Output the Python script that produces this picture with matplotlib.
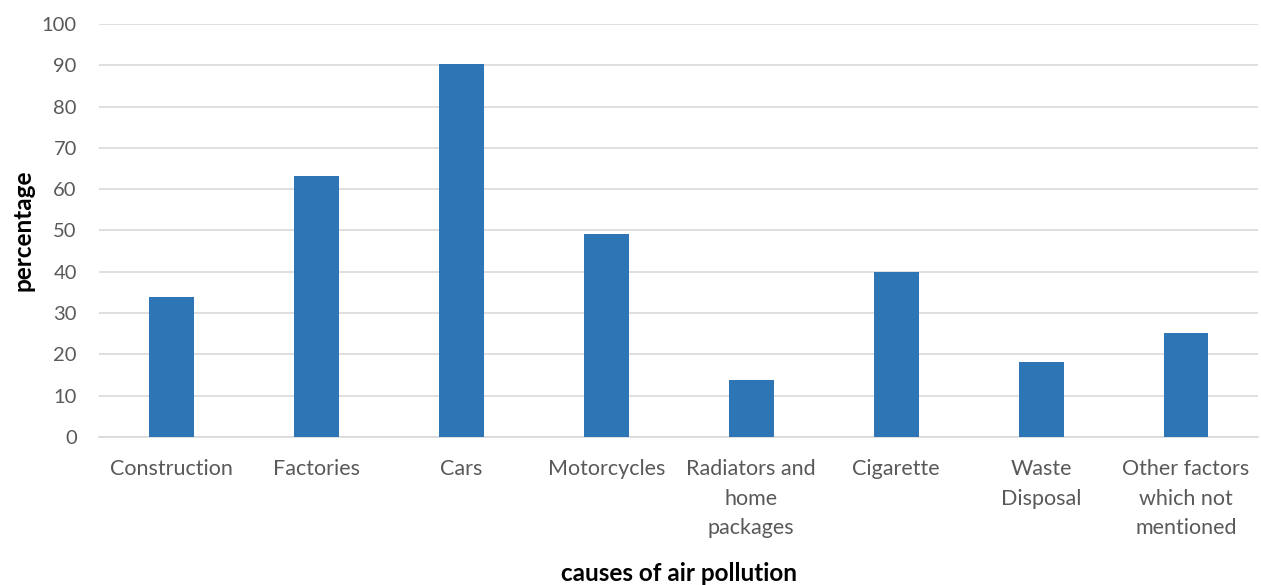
import matplotlib
matplotlib.use('Agg')
import matplotlib.pyplot as plt

# causes of air pollution survey
categories = ['Construction', 'Factories', 'Cars', 'Motorcycles',
              'Radiators and\nhome\npackages', 'Cigarette',
              'Waste\nDisposal', 'Other factors\nwhich not\nmentioned']
percentages = [34.0, 63.3, 90.3, 49.2, 13.8, 39.9, 18.1, 25.2]

plt.rcParams['font.family'] = ['Lato', 'DejaVu Sans']

fig = plt.figure(figsize=(12.61, 5.85), dpi=100)
ax = fig.add_axes([0.0785, 0.253, 0.9195, 0.706])

x = range(len(categories))
ax.bar(x, percentages, width=0.31, color='#2e75b6', zorder=3)

ax.set_xlim(-0.5, len(categories) - 0.5)
ax.set_ylim(0, 100)
ax.set_yticks(range(0, 101, 10))
ax.yaxis.grid(True, color='#d9d9d9', linewidth=1.2, zorder=0)
ax.set_xticks(list(x))
ax.set_xticklabels(categories, linespacing=1.6)

for side in ['top', 'right', 'left']:
  ax.spines[side].set_visible(False)
ax.spines['bottom'].set_color('#d9d9d9')
ax.spines['bottom'].set_linewidth(1.2)
ax.tick_params(axis='x', length=0, labelsize=15.5, colors='#595959', pad=16)
ax.tick_params(axis='y', length=0, labelsize=14.5, colors='#595959', pad=16)

ax.set_xlabel('causes of air pollution', fontsize=17.5, fontweight='bold')
ax.xaxis.set_label_coords(0.5, -0.3035)
ax.set_ylabel('percentage', fontsize=17.5, fontweight='bold')
ax.yaxis.set_label_coords(-0.056, 0.5)

fig.savefig('out.png', dpi=100)
